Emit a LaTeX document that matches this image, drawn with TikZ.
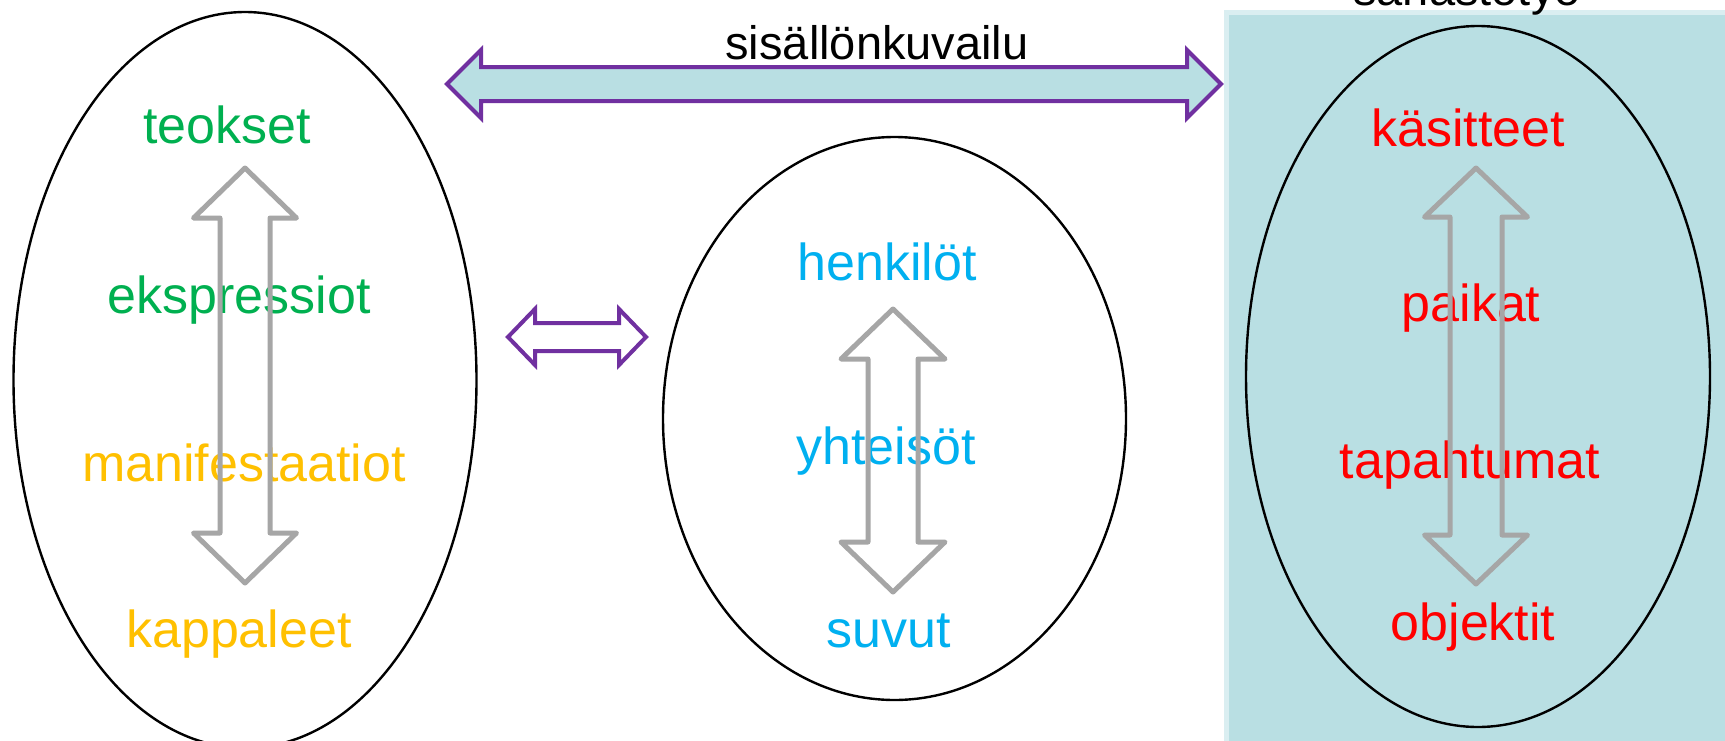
\documentclass[tikz,border=0pt]{standalone}
\usepackage{fontspec}
\setmainfont{Liberation Sans}
\usetikzlibrary{shapes.geometric}
\definecolor{cgreen}{HTML}{00B050}
\definecolor{camber}{HTML}{FFC000}
\definecolor{ccyan}{HTML}{00B0F0}
\definecolor{cred}{HTML}{FF0000}
\definecolor{cgray}{HTML}{A6A6A6}
\definecolor{cpurple}{HTML}{7030A0}
\definecolor{cpanel}{RGB}{185,223,227}
\definecolor{cpanelrim}{RGB}{218,238,241}
% horizontal double block arrow: style, y, xleft, xright, shaft half, head half, head length
\newcommand{\hdarrow}[7]{%
  \draw[#1] (#3,#2) -- (#3+#7,#2-#6) -- (#3+#7,#2-#5) -- (#4-#7,#2-#5) -- (#4-#7,#2-#6) -- (#4,#2)
    -- (#4-#7,#2+#6) -- (#4-#7,#2+#5) -- (#3+#7,#2+#5) -- (#3+#7,#2+#6) -- cycle;}
% vertical double block arrow: style, x, ytop, ybottom, shaft half, head half, head length
\newcommand{\vdarrow}[7]{%
  \draw[#1] (#2,#3) -- (#2+#6,#3+#7) -- (#2+#5,#3+#7) -- (#2+#5,#4-#7) -- (#2+#6,#4-#7) -- (#2,#4)
    -- (#2-#6,#4-#7) -- (#2-#5,#4-#7) -- (#2-#5,#3+#7) -- (#2-#6,#3+#7) -- cycle;}
\begin{document}
\begin{tikzpicture}[x=0.5pt,y=-0.5pt,
  lbl/.style={anchor=base, inner sep=0pt, font=\fontsize{26}{30}\selectfont},
  toplbl/.style={anchor=base, inner sep=0pt, font=\fontsize{23.5}{28}\selectfont},
  ell/.style={draw=black, line width=1.2pt, ellipse, inner sep=0pt},
  purplearrow/.style={draw=cpurple, line width=2pt, line join=miter},
  grayarrow/.style={draw=cgray, line width=2.5pt, line join=round}]
\useasboundingbox (0,0) rectangle (1725,740);
\clip (0,0) rectangle (1725,740);
\fill[white] (0,0) rectangle (1725,740);
% right panel
\draw[cpanelrim, line width=2.5pt, fill=cpanel] (1226.5,12.8) rectangle (1780,800);
\node[toplbl] (sanastotyo) at (1467,5) {sanastotyö};
% purple arrows
\hdarrow{purplearrow, fill=cpanel}{84}{447}{1221}{17}{34}{34}
\node[toplbl] (sisallon) at (877,59) {sisällönkuvailu};
\hdarrow{purplearrow}{337}{508}{646}{14}{28}{27}
% ellipses
\node[ell, minimum width=231.5pt, minimum height=368pt] (leftell) at (245,380) {};
\node[ell, minimum width=231.5pt, minimum height=281.5pt] (midell) at (894.5,418.5) {};
\node[ell, minimum width=232pt, minimum height=350.5pt] (rightell) at (1478,376.5) {};
% left texts
\node[lbl, text=cgreen] (teokset) at (227,143) {teokset};
\node[lbl, text=cgreen] (ekspressiot) at (239,313) {ekspressiot};
\node[lbl, text=camber] (manifestaatiot) at (244,481) {manifestaatiot};
\node[lbl, text=camber] (kappaleet) at (239,647) {kappaleet};
% middle texts
\node[lbl, text=ccyan] (henkilot) at (887,280) {henkilöt};
\node[lbl, text=ccyan] (yhteisot) at (886,464) {yhteisöt};
\node[lbl, text=ccyan] (suvut) at (889,647) {suvut};
% right texts
\node[lbl, text=cred] (kasitteet) at (1468,146) {käsitteet};
\node[lbl, text=cred] (paikat) at (1471,321) {paikat};
\node[lbl, text=cred] (tapahtumat) at (1470,478) {tapahtumat};
\node[lbl, text=cred] (objektit) at (1473,640) {objektit};
% gray arrows
\vdarrow{grayarrow}{245}{168}{583}{25}{51.5}{50}
\vdarrow{grayarrow}{893}{309}{592}{25}{52}{50}
\vdarrow{grayarrow}{1476}{168}{584}{26}{51.5}{49}
\end{tikzpicture}
\end{document}
